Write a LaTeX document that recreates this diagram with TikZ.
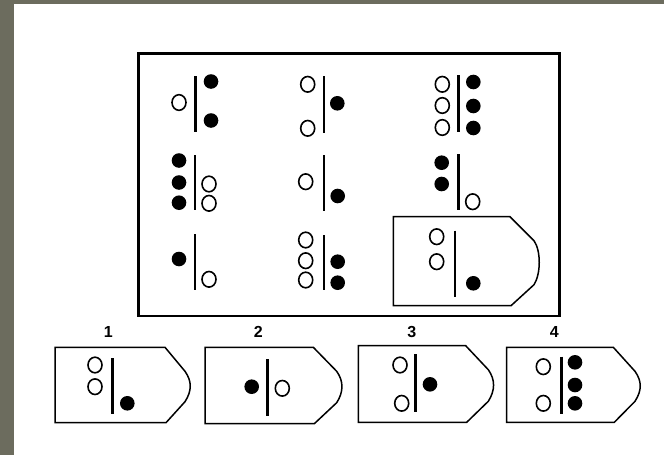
\documentclass[tikz,border=0pt]{standalone}
\usepackage{fontspec}
\setmainfont{Liberation Sans}
\definecolor{edgegray}{RGB}{108,108,94}
\tikzset{
  x=1pt,y=-1pt,
  holc/.style={draw=black,line width=1.6pt,fill=white},
  filc/.style={fill=black},
  bar/.style={line width=2.6pt},
  tagline/.style={line width=1.5pt,line join=miter},
  framestyle/.style={line width=2.6pt},
  lbl/.style={font=\bfseries\fontsize{16}{17}\selectfont,inner sep=0pt}
}
\newcommand\hol[2]{\draw[holc] (#1) ellipse [x radius=7pt, y radius=7.8pt];}
\newcommand\fil[1]{\fill[filc] (#1) circle [radius=7.3pt];}
% #1 left, #2 top, #3 bottom, #4 corner x, #5 diag end x
\newcommand\tagbox[5]{%
  \draw[tagline] (#1,#2) -- (#4,#2) -- (#5,#2+24)
    .. controls (#5+7,#2+34) and (#5+7,#3-32) .. (#5,#3-21)
    -- (#4+1,#3) -- (#1,#3) -- cycle;}
\begin{document}
\begin{tikzpicture}
\useasboundingbox (0,0) rectangle (664,455);
\fill[white] (0,0) rectangle (664,455);
\fill[edgegray] (0,0) rectangle (664,4);
\fill[edgegray] (0,0) rectangle (14,455);
% main frame
\draw[framestyle] (138.3,53.3) rectangle (559.3,316);
% row 1
\hol{179,102.5}{}
\draw[bar] (195.5,76) -- (195.5,131.7);
\fil{211,81.5}
\fil{211,120.5}
\hol{307.7,84.3}{}
\hol{307.7,128.3}{}
\draw[bar] (324,76) -- (324,133);
\fil{337.3,103.3}
\hol{442.3,84.3}{}
\hol{442.3,105.5}{}
\hol{442.3,127.5}{}
\draw[bar] (458.3,75) -- (458.3,131.7);
\fil{473.3,82}
\fil{473.3,106}
\fil{473.3,128}
% row 2
\fil{179,160.5}
\fil{179,182.5}
\fil{179,202.7}
\draw[bar] (195,155) -- (195,210);
\hol{209,184}{}
\hol{209,203.3}{}
\hol{305.7,181.7}{}
\draw[bar] (324,155) -- (324,210.7);
\fil{337.7,196}
\fil{441.7,162.7}
\fil{441.7,184}
\draw[bar] (458.3,154.3) -- (458.3,210);
\hol{472.7,201.7}{}
% row 3
\fil{179,259}
\draw[bar] (195,234.3) -- (195,290);
\hol{209,279.3}{}
\hol{305.7,240}{}
\hol{305.7,260.7}{}
\hol{305.7,280}{}
\draw[bar] (324,235) -- (324,290);
\fil{337.7,261.7}
\fil{337.7,282.7}
\tagbox{393.3}{216.7}{305.7}{510}{534}
\hol{436.7,236.7}{}
\hol{436.7,261.7}{}
\draw[bar] (455,230.7) -- (455,296.7);
\fil{473.3,283.3}
% options
\node[lbl] (n1) at (108.3,332.3) {1};
\node[lbl] (n2) at (258.3,332.3) {2};
\node[lbl] (n3) at (411.7,332.3) {3};
\node[lbl] (n4) at (554.3,332.3) {4};
\tagbox{55}{347.3}{422.7}{165}{185}
\hol{95,365}{}
\hol{95,386.7}{}
\draw[bar] (112.7,358.3) -- (112.7,414);
\fil{127.3,403.3}
\tagbox{205}{347.3}{423.7}{313.3}{336.7}
\fil{251.7,386.7}
\draw[bar] (267.7,359.3) -- (267.7,415.7);
\hol{282.3,388.3}{}
\tagbox{358.3}{345.7}{422.3}{465.7}{488.3}
\hol{400,365}{}
\hol{401.7,403.3}{}
\draw[bar] (415.7,354.3) -- (415.7,411.7);
\fil{430,384.3}
\tagbox{506.7}{347.3}{422.3}{613.3}{635}
\hol{543.3,366.7}{}
\hol{543.3,403.3}{}
\draw[bar] (561.7,356.7) -- (561.7,414.3);
\fil{575,362.3}
\fil{575,385}
\fil{575,403.3}
\end{tikzpicture}
\end{document}
